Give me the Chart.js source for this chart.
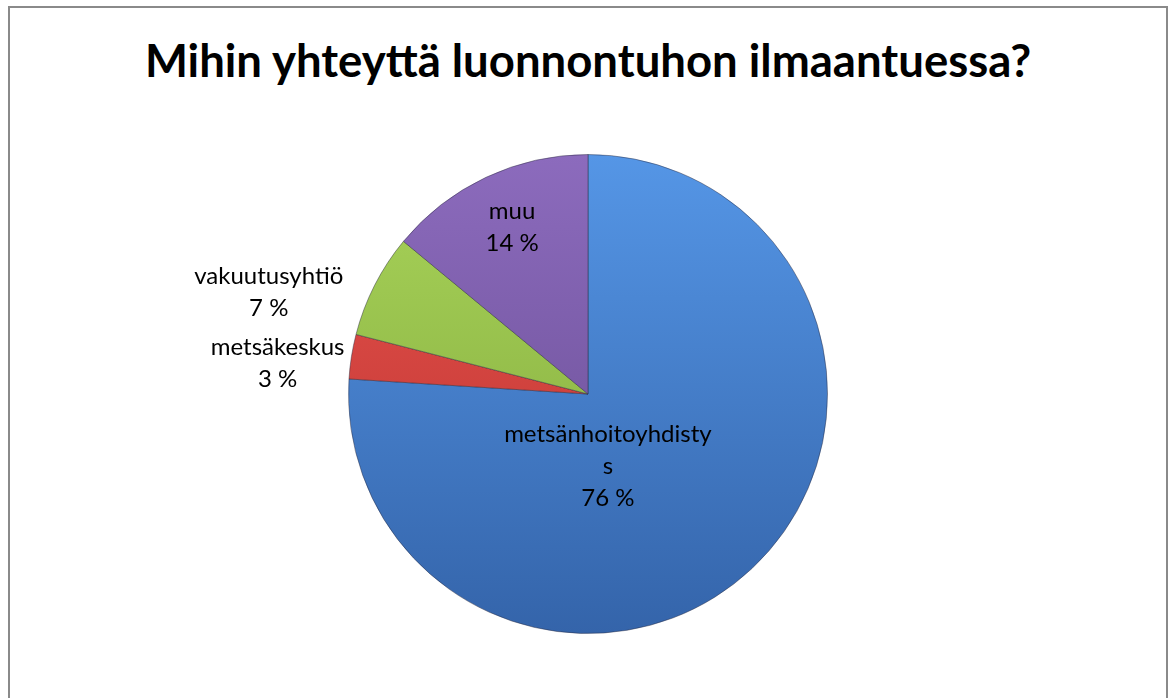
<!DOCTYPE html>
<html>
<head>
<meta charset="utf-8">
<script src="https://cdn.jsdelivr.net/npm/chart.js@4"></script>
<style>
  html, body { margin: 0; padding: 0; background: #fff; }
  #wrap { position: relative; width: 1172px; height: 698px; overflow: hidden; }
  #frame {
    position: absolute; left: 8px; top: 6px; width: 1160px; height: 720px;
    border: 2px solid #8a8a8a; box-sizing: border-box;
  }
  #title {
    position: absolute; left: 0; top: 32px; width: 1176px; text-align: center;
    font-family: Lato, sans-serif; font-weight: bold; font-size: 45.5px; color: #000;
  }
  #chart { position: absolute; left: 0; top: 0; }
</style>
</head>
<body>
<div id="wrap">
  <div id="frame"></div>
  <div id="title">Mihin yhteyttä luonnontuhon ilmaantuessa?</div>
  <canvas id="chart" width="1172" height="698"></canvas>
</div>
<script>
const categories = ["metsänhoitoyhdistys", "metsäkeskus", "vakuutusyhtiö", "muu"];
const labelLines = [["metsänhoitoyhdisty", "s"], ["metsäkeskus"], ["vakuutusyhtiö"], ["muu"]];
const shares = [76, 3, 7, 14];

const topColors = ["#5596e6", "#e8544f", "#a9d45a", "#8c6bbd"];
const bottomColors = ["#3464aa", "#b8302c", "#7fa63a", "#654a8f"];

// label block centre, as fraction of the radius from pie centre
const labelPos = [[0.083, 0.30], [-1.296, -0.13], [-1.333, -0.425], [-0.317, -0.696]];

function sliceFill(ctx) {
    const i = ctx.dataIndex;
    const area = ctx.chart.chartArea;
    if (!area || i === undefined) return topColors[i || 0];
    const g = ctx.chart.ctx.createLinearGradient(0, area.top, 0, area.bottom);
    g.addColorStop(0, topColors[i]);
    g.addColorStop(1, bottomColors[i]);
    return g;
}

const labelPlugin = {
    id: "sliceLabels",
    afterDatasetsDraw(chart) {
        const ctx = chart.ctx;
        const arcs = chart.getDatasetMeta(0).data;
        ctx.save();
        ctx.font = "24px Lato, sans-serif";
        ctx.fillStyle = "#000";
        ctx.textAlign = "center";
        ctx.textBaseline = "middle";
        const lineH = 32;
        arcs.forEach((arc, i) => {
            const r = arc.outerRadius;
            const cx = arc.x + labelPos[i][0] * r;
            const cy = arc.y + labelPos[i][1] * r;
            const lines = labelLines[i].concat([shares[i] + " %"]);
            const y0 = cy - (lines.length - 1) * lineH / 2;
            lines.forEach((t, k) => ctx.fillText(t, cx, y0 + k * lineH));
        });
        ctx.restore();
    }
};

new Chart(document.getElementById("chart"), {
    type: "pie",
    data: {
        labels: categories,
        datasets: [{
            data: shares,
            backgroundColor: sliceFill,
            borderColor: "rgba(40,40,60,0.45)",
            borderWidth: 1
        }]
    },
    options: {
        responsive: false,
        animation: false,
        layout: { padding: { top: 154, bottom: 64, left: 348, right: 344 } },
        plugins: {
            legend: { display: false },
            tooltip: { enabled: false },
            title: { display: false }
        }
    },
    plugins: [labelPlugin]
});
</script>
</body>
</html>
